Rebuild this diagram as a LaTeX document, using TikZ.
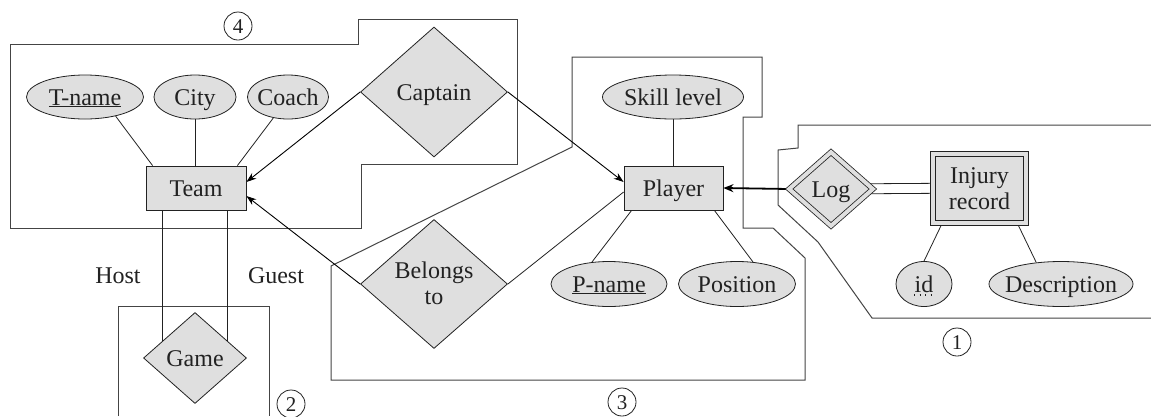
\documentclass[tikz,border=0pt]{standalone}
\usepackage{fontspec}
\setmainfont{Liberation Serif}
\usetikzlibrary{shapes.geometric,arrows.meta,calc,backgrounds}
\definecolor{gfill}{HTML}{DFDFDF}
\definecolor{ink}{HTML}{222222}
\definecolor{wire}{HTML}{444444}
\newcommand{\zw}[1]{\makebox[0pt][c]{#1}}
\begin{document}
\begin{tikzpicture}[x=1pt,y=-1pt,
  every node/.style={font=\fontsize{24}{26}\selectfont, text=ink, text height=16pt, text depth=0pt},
  two/.style={text height=35pt, text depth=17pt},
  ent/.style={draw=ink, fill=gfill, line width=0.8pt, rectangle, minimum width=100pt, minimum height=44pt, inner sep=0pt},
  attr/.style={draw=ink, fill=gfill, line width=0.8pt, ellipse, inner sep=0pt, minimum height=44pt},
  rel/.style={draw=ink, fill=gfill, line width=0.8pt, diamond, inner sep=0pt, aspect=1},
  region/.style={draw=wire, line width=1pt},
  conn/.style={draw=ink, line width=0.8pt},
  arr/.style={draw=black, line width=0.9pt, -{Stealth[length=10pt,width=7pt]}},
  thickarr/.style={draw=black, line width=1.8pt, -{Stealth[length=10pt,width=8pt]}},
  num/.style={draw=ink, circle, minimum size=28pt, inner sep=0pt, line width=0.8pt, font=\fontsize{21}{21}\selectfont, text height=14pt},
]
\useasboundingbox (0,0) rectangle (1151,416);

% entities and attributes
\node[attr, minimum width=117pt] (tname) at (85,97) {\zw{\underline{T-name}}};
\node[attr, minimum width=82pt] (city) at (195,97) {\zw{City}};
\node[attr, minimum width=81pt] (coach) at (288,97) {\zw{Coach}};
\node[ent] (team) at (196,188) {Team};
\node[rel, minimum width=147pt, minimum height=130pt] (captain) at (434,92) {\zw{Captain}};
\node[rel, two, minimum width=147pt, minimum height=129pt] (belongs) at (434,284) {\zw{\begin{tabular}{@{}c@{}}Belongs\\to\end{tabular}}};
\node[rel, minimum width=103pt, minimum height=91pt] (game) at (195,358) {\zw{Game}};
\node[ent, minimum width=99pt] (player) at (673.5,188) {Player};
\node[attr, minimum width=141pt] (skill) at (673,97) {\zw{Skill level}};
\node[attr, minimum width=116pt, minimum height=45pt] (pname) at (609,284) {\zw{\underline{P-name}}};
\node[attr, minimum width=117pt, minimum height=45pt] (position) at (737,284) {\zw{Position}};
\node[rel, double=gfill, double distance=4pt, minimum width=84pt, minimum height=74pt] (log) at (831,189) {\zw{Log}};
\node[ent, two, double=gfill, double distance=4.5pt, minimum width=93pt, minimum height=69pt] (injury) at (979.5,188.5) {\zw{\begin{tabular}{@{}c@{}}Injury\\record\end{tabular}}};
\node[attr, minimum width=56pt, minimum height=45pt] (id) at (924,284) {\zw{id}};
\node[attr, minimum width=144pt, minimum height=45pt] (desc) at (1061,284) {\zw{Description}};

% role labels
\node (host) at (118,275) {Host};
\node (guest) at (276,275) {Guest};

% circled numbers
\node[num] (n4) at (238,26) {4};
\node[num] (n3) at (622,402) {3};
\node[num] (n2) at (291,404) {2};
\node[num] (n1) at (957,342) {1};

% dotted underline of id
\draw[ink, line width=1.3pt, dash pattern=on 1.3pt off 4.2pt] ($(id.center)+(-10,11)$) -- ($(id.center)+(9,11)$);

\begin{scope}[on background layer]
\fill[white] (0,0) rectangle (1151,416);
% regions
\draw[region] (10,44) -- (358,44) -- (358,19) -- (517,19) -- (517,164) -- (361,164) -- (361,228) -- (10,228) -- cycle;
\draw[region] (331,266) -- (572,147) -- (572,57) -- (762,57) -- (762,117) -- (743,117) -- (743,228) -- (773,228) -- (805,258) -- (805,380) -- (331,380) -- cycle;
\draw[region] (118,416) -- (118,306) -- (269,306) -- (269,416);
\draw[region] (1151,125) -- (798,125) -- (798,148) -- (778,150) -- (778,205) -- (818,242) -- (872,318) -- (1151,318);

% attribute links
\draw[conn] (tname.-32) -- ($(team.north west)+(7,0)$);
\draw[conn] (city.south) -- (city.south |- team.north);
\draw[conn] (coach.-125) -- ($(team.north east)+(-9,0)$);
\draw[conn] (skill.south) -- (skill.south |- player.north);
\draw[conn] (pname.128) -- ($(player.south west)+(8,0)$);
\draw[conn] (position.54) -- ($(player.south east)+(-9,0)$);
\draw[conn] (id.north) -- ($(injury.south west)+(9.5,0)$);
\draw[conn] (desc.139) -- ($(injury.south east)+(-9,0)$);

% Host / Guest
\coordinate (h1) at ($(team.south west)+(17,0)$);
\coordinate (g1) at ($(team.south east)+(-19,0)$);
\draw[conn] (h1) -- (h1 |- game.center);
\draw[conn] (g1) -- (g1 |- game.center);

% relationship links
\draw[arr] (captain.west) -- ($(team.east)+(0,-6)$);
\draw[arr] (belongs.west) -- ($(team.east)+(0,8)$);
\draw[arr] (captain.east) -- ($(player.west)+(0,-6)$);
\draw[conn] (belongs.east) -- ($(player.west)+(0,4)$);
\draw[thickarr] (log.west) -- (player.east);
\draw[conn] ($(log.center)+(0,-5)$) -- ($(injury.center)+(0,-5.5)$);
\draw[conn] ($(log.center)+(0,5)$) -- ($(injury.center)+(0,4.5)$);
\end{scope}
\end{tikzpicture}
\end{document}
